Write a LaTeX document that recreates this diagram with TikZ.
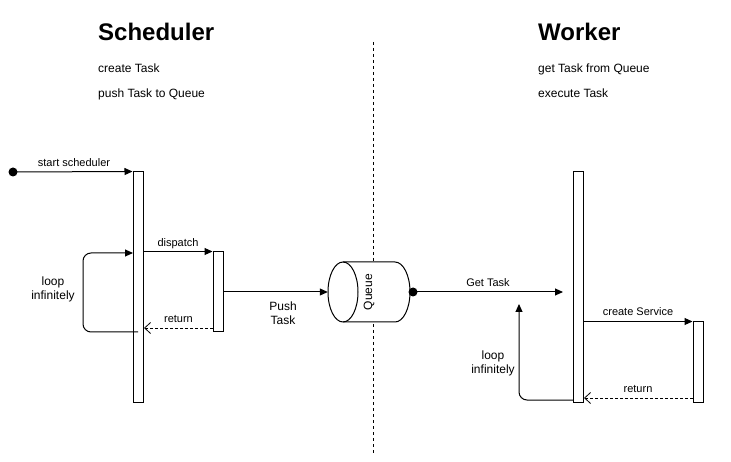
\documentclass[tikz,border=0pt]{standalone}
\usepackage{fontspec}
\setmainfont{Liberation Sans}
\usetikzlibrary{arrows.meta}
\begin{document}
\begin{tikzpicture}[x=1pt,y=-1pt,
  bar/.style={draw,line width=1pt,fill=white,minimum width=10pt,inner sep=0pt},
  msg/.style={line width=1pt,-{Triangle[length=8pt,width=7pt]}},
  retn/.style={line width=0.8pt,dash pattern=on 3pt off 2pt,-{Straight Barb[length=6pt,width=11pt]}},
  divider/.style={line width=1pt,dash pattern=on 3pt off 3pt},
  dot/.style={circle,fill=black,inner sep=0pt,minimum size=9pt},
  lbl/.style={font=\fontsize{11}{13}\selectfont,anchor=base,inner sep=0pt},
  loopl/.style={font=\fontsize{12}{13.5}\selectfont,align=center,inner sep=0pt},
  title/.style={font=\fontsize{24}{28}\selectfont\bfseries,anchor=base west,inner sep=0pt},
  sub/.style={font=\fontsize{12}{14}\selectfont,anchor=base west,inner sep=0pt}]
\useasboundingbox (0,0) rectangle (731,462);

% divider
\coordinate (dtop) at (373,42);
\coordinate (dbot) at (373,453);
\draw[divider] (dtop) -- (dbot);

% headings
\node[title] (tS) at (98,41) {Scheduler};
\node[sub] (s1) at (98,73) {create Task};
\node[sub] (s2) at (98,98) {push Task to Queue};
\node[title] (tW) at (538,41) {Worker};
\node[sub] (w1) at (538,73) {get Task from Queue};
\node[sub] (w2) at (538,98) {execute Task};

% lifelines
\node[bar,minimum height=230pt] (sch) at (138,287) {};
\node[bar,minimum height=80pt] (act1) at (218,292) {};
\node[bar,minimum height=230pt] (wrk) at (578,287) {};
\node[bar,minimum height=80pt] (act2) at (698,362) {};

% queue cylinder
\draw[line width=1pt,fill=white] (343,262) -- (395,262)
  arc[start angle=90,end angle=-90,x radius=15pt,y radius=30pt]
  -- (343,322)
  arc[start angle=270,end angle=90,x radius=15pt,y radius=30pt] -- cycle;
\draw[line width=1pt] (343,262) arc[start angle=90,end angle=-90,x radius=15pt,y radius=30pt];
\node[rotate=90,minimum width=60pt,minimum height=82pt,inner sep=0pt,
  font=\fontsize{12}{14}\selectfont] (queue) at (369,292) {Queue};

% start scheduler
\node[dot] (s0) at (13,172) {};
\draw[msg] (s0.center) -- (sch.north west);
\node[lbl] (l1) at (74,167) {start scheduler};

% dispatch
\draw[msg] (sch.east |- act1.north) -- (act1.north west);
\node[lbl] (l2) at (178,247) {dispatch};

% return 1
\coordinate (r1a) at (213,328);
\coordinate (r1b) at (144,328);
\draw[retn] (r1a) -- (r1b);
\node[lbl] (l3) at (178.5,323) {return};

% loop 1
\coordinate (lp1s) at (138,332);
\coordinate (lp1a) at (83,332);
\coordinate (lp1b) at (83,253);
\coordinate (lp1e) at (133,253);
\draw[msg,rounded corners=8pt] (lp1s) -- (lp1a) -- (lp1b) -- (lp1e);
\node[loopl] (l4) at (53,289.2) {loop\\infinitely};

% push task
\draw[msg] (act1.east) -- (queue.north);
\node[loopl] (l5) at (283,313.4) {Push\\Task};

% get task
\node[dot] (qd) at (413,292) {};
\coordinate (gt) at (563,292);
\draw[msg] (qd.center) -- (gt);
\node[lbl] (l6) at (488,287) {Get Task};

% loop 2
\coordinate (lp2s) at (573,400);
\coordinate (lp2a) at (519,400);
\coordinate (lp2e) at (519,304);
\draw[msg,rounded corners=8pt] (lp2s) -- (lp2a) -- (lp2e);
\node[loopl] (l7) at (493,363.6) {loop\\infinitely};

% create service
\draw[msg] (wrk.east |- act2.north) -- (act2.north west);
\node[lbl] (l8) at (638,316) {create Service};

% return 2
\coordinate (r2a) at (693,398);
\coordinate (r2b) at (584,398);
\draw[retn] (r2a) -- (r2b);
\node[lbl] (l9) at (638,392) {return};
\end{tikzpicture}
\end{document}
